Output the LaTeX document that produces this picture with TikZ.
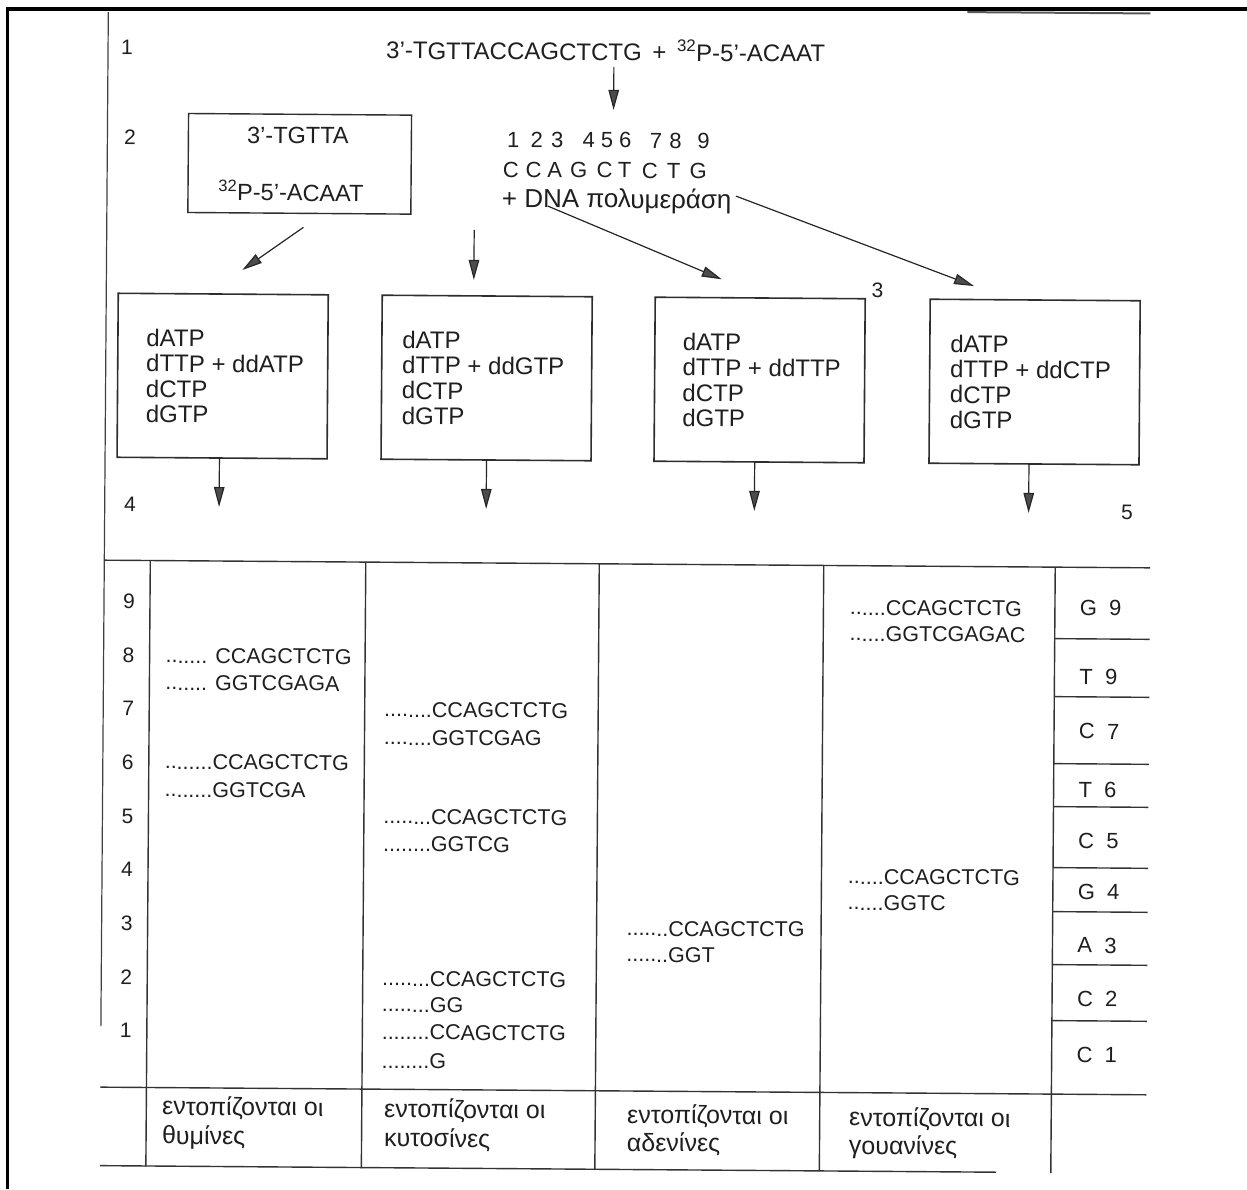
\documentclass[tikz,border=0pt]{standalone}
\usepackage{fontspec}
\setmainfont{Liberation Sans}
\usetikzlibrary{arrows.meta}
\begin{document}
\begin{tikzpicture}[x=1pt,y=1pt,
  every node/.style={inner sep=0pt,outer sep=0pt,text=black!88},
  outerframe/.style={line width=3.3pt,draw=black},
  ln/.style={line width=1.4pt,draw=black!80},
  boxst/.style={draw=black!82,line width=1.6pt,rectangle,minimum width=210pt,minimum height=164pt,anchor=north west},
  arr/.style={line width=1.2pt,draw=black!85,-{Triangle[length=20pt,width=10.5pt,fill=black!70]}},
  fbig/.style={font=\fontsize{24}{28}\selectfont},
  fa/.style={font=\fontsize{23.5}{28}\selectfont},
  fm/.style={font=\fontsize{22}{26}\selectfont},
  fbox/.style={font=\fontsize{24}{28}\selectfont,anchor=base west},
  fnum/.style={font=\fontsize{21}{25}\selectfont},
  flab/.style={font=\fontsize{22}{25}\selectfont,anchor=base west},
  fseq/.style={font=\fontsize{21.5}{24}\selectfont,anchor=base west},
  ffoot/.style={font=\fontsize{25}{28}\selectfont,anchor=base west},
]
\useasboundingbox (0,0) rectangle (1247,-1189);
\fill[white] (0,0) rectangle (1247,-1189);
\draw[outerframe] (7.7,-1189) -- (7.7,-9) -- (1247,-9);

\begin{scope}[rotate around={-0.42:(627,-600)},transform shape]
% page edges
\draw[line width=1.2pt,black!75] (104,-16) -- (104,-1030);
\draw[line width=2pt,black!65] (963,-9.6) -- (1146,-9.6);

% step labels
\node[fnum,anchor=base] (s1) at (123,-57.8) {1};
\node[fnum,anchor=base] (s2) at (126.6,-147.8) {2};
\node[fnum,anchor=base] (s3) at (875.3,-295.7) {3};
\node[fnum,anchor=base] (s4) at (129.3,-515) {4};
\node[fnum,anchor=base] (s5) at (1126.3,-515.8) {5};

% top formula
\node[fbig,anchor=base] (formula) at (601.7,-60.5) {3'-TGTTACCAGCTCTG \,+\, \textsuperscript{32}P-5'-ACAAT};
\coordinate (fa1) at (610,-67);
\coordinate (fa2) at (610,-110);
\draw[arr] (fa1) -- (fa2);

% primer box
\node[draw=black!82,line width=1.4pt,rectangle,minimum width=223pt,minimum height=99pt,anchor=north west] (bA) at (185,-116.7) {};
\node[fa,anchor=base] (bAt) at (294.5,-145.8) {3'-TGTTA};
\node[fa,anchor=base] (bAb) at (288,-203.4) {\textsuperscript{32}P-5'-ACAAT};

% template positions and letters
\foreach \i/\x in {1/513.3,2/536.7,3/557.2,4/588.7,5/607,6/625.2,7/656,8/675.7,9/703.5}
  \node[fm,anchor=base] (dg\i) at ({\x-3.4},-148) {\i};
\foreach \i/\x/\c in {1/511/C,2/533.8/C,3/555/A,4/579/G,5/604.8/C,6/625/T,7/650/C,8/674/T,9/698.4/G}
  \node[fm,anchor=base] (lt\i) at ({\x-3.4},-178) {\c};
\node[font=\fontsize{26}{28}\selectfont,anchor=base west] (pol) at (499,-208) {+ DNA πολυμεράση};

% arrows to the reaction boxes
\coordinate (aA1) at (300.7,-229.7);
\coordinate (aA2) at (239.9,-272.8);
\coordinate (aB1) at (471.5,-231);
\coordinate (aB2) at (471.5,-281);
\coordinate (aC1) at (544.8,-206.6);
\coordinate (aC2) at (719.4,-278.6);
\coordinate (aD1) at (733,-195.3);
\coordinate (aD2) at (971.7,-283.5);
\draw[arr] (aA1) -- (aA2);
\draw[arr] (aB1) -- (aB2);
\draw[arr] (aC1) -- (aC2);
\draw[arr] (aD1) -- (aD2);

% reaction boxes
\foreach \n/\bx/\tx/\dd/\ax in {1/116/144.5/ddATP/218.4, 2/380/400.5/ddGTP/485.5, 3/653/681/ddTTP/753.7, 4/928/948.5/ddCTP/1028}{
  \node[boxst] (b\n) at (\bx,-297) {};
  \node[fbox] (t\n-a) at (\tx,-350) {dATP};
  \node[fbox] (t\n-b) at (\tx,-375.3) {dTTP + \dd};
  \node[fbox] (t\n-c) at (\tx,-400.6) {dCTP};
  \node[fbox] (t\n-d) at (\tx,-425.9) {dGTP};
  \coordinate (d\n) at (\ax,-510);
  \draw[arr] (b\n.south -| d\n) -- (d\n);
}

% table
\draw[ln] (104,-564) -- (1150,-564);
\draw[ln] (104,-1091) -- (1150,-1091);
\draw[ln] (104,-1169.5) -- (1000,-1169.5);
\foreach \x in {150,365.5,599,823.5,1055}
  \draw[ln] (\x,-564) -- (\x,-1170);
\foreach \y in {635.5,693.5,760.5,803.5,864.5,908.5,961.5,1017.5}
  \draw[ln] (1055,-\y) -- (1150,-\y);

% row numbers
\foreach \k in {0,...,8}{
  \pgfmathtruncatemacro\lab{9-\k}
  \node[fnum,anchor=base] (r\lab) at (129,{-(612+53.7*\k)}) {\lab};
}

% right column labels
\foreach \nm/\t/\y in {g9/G\ \ 9/612, t9/T\ \ 9/681, c7/C\ \ 7/735.5, t6/T\ \ 6/794, c5/C\ \ 5/845, g4/G\ \ 4/896, a3/A\ \ 3/949.5, c2/C\ \ 2/1003, c1/C\ \ 1/1059}
  \node[flab] (\nm) at (1080,-\y) {\t};

% column 1 (thymines)
\node[fseq] (c1a) at (166,-666.3) {....... CCAGCTCTG};
\node[fseq] (c1b) at (166,-693.3) {....... GGTCGAGA};
\node[fseq] (c1c) at (166,-772.3) {........CCAGCTCTG};
\node[fseq] (c1d) at (166,-800.3) {........GGTCGA};
% column 2 (cytosines)
\node[fseq] (c2a) at (385,-718.6) {........CCAGCTCTG};
\node[fseq] (c2b) at (385,-746.6) {........GGTCGAG};
\node[fseq] (c2c) at (385,-825.6) {........CCAGCTCTG};
\node[fseq] (c2d) at (385,-853) {........GGTCG};
\node[fseq] (c2e) at (385,-987.6) {........CCAGCTCTG};
\node[fseq] (c2f) at (385,-1013.6) {........GG};
\node[fseq] (c2g) at (385,-1041.3) {........CCAGCTCTG};
\node[fseq] (c2h) at (385,-1070.3) {........G};
% column 3 (adenines)
\node[fseq] (c3a) at (629,-935.8) {.......CCAGCTCTG};
\node[fseq] (c3b) at (629,-961.8) {.......GGT};
% column 4 (guanines)
\node[fseq] (c4a) at (850,-613.3) {......CCAGCTCTG};
\node[fseq] (c4b) at (850,-639.3) {......GGTCGAGAC};
\node[fseq] (c4c) at (850,-882.3) {......CCAGCTCTG};
\node[fseq] (c4d) at (850,-908.3) {......GGTC};

% footer
\node[ffoot] (f1a) at (166,-1118.3) {εντοπίζονται οι};
\node[ffoot] (f1b) at (166,-1147.3) {θυμίνες};
\node[ffoot] (f2a) at (388,-1119.3) {εντοπίζονται οι};
\node[ffoot] (f2b) at (388,-1148.3) {κυτοσίνες};
\node[ffoot] (f3a) at (631,-1123.3) {εντοπίζονται οι};
\node[ffoot] (f3b) at (631,-1151.3) {αδενίνες};
\node[ffoot] (f4a) at (853,-1124.3) {εντοπίζονται οι};
\node[ffoot] (f4b) at (853,-1152.3) {γουανίνες};
\end{scope}
\end{tikzpicture}
\end{document}
